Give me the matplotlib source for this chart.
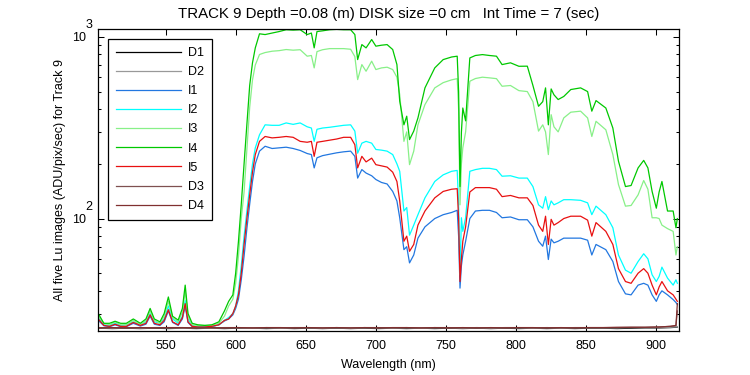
import numpy as np
import matplotlib
matplotlib.use("Agg")
import matplotlib.pyplot as plt
import matplotlib.transforms as mtransforms
from matplotlib.ticker import LogLocator, FixedFormatter, NullFormatter

wl = [502, 506, 510, 514, 518, 522, 527, 532, 536, 539, 542, 546, 549, 552, 555, 559, 562, 564, 566, 569,
      573, 578, 583, 588, 592, 595, 598, 600, 602, 604, 606, 608, 610, 612, 614, 617, 621, 626, 631, 636,
      641, 646, 651, 654, 656, 658, 662, 667, 672, 677, 682, 685, 687, 690, 693, 697, 700, 704, 708, 712,
      715, 717, 720, 722, 724, 727, 730, 735, 742, 748, 754, 758, 759, 760, 761, 762, 764, 767, 771, 776,
      781, 786, 790, 796, 802, 808, 812, 816, 819, 821, 823, 825, 827, 830, 834, 839, 846, 851, 854, 857,
      864, 869, 873, 878, 882, 887, 891, 894, 897, 900, 902, 904, 908, 912, 914, 915]

I1 = [27.5, 25.7, 25.4, 26, 25.4, 25.4, 26.5, 25.6, 26.2, 29, 26.2, 25.8, 27, 31, 26.8, 25.8, 28, 33, 26.8, 25.4,
      25.2, 25.2, 25.4, 26, 27.3, 28, 29.5, 32, 36, 46, 62, 88, 120, 160, 200, 235, 250, 243, 245, 247,
      243, 237, 228, 225, 190, 216, 222, 226, 230, 233, 235, 220, 167, 186, 178, 172, 164, 158, 155, 141,
      125, 101, 67.4, 70, 57, 63, 78, 90, 100, 105, 108, 111, 80, 41.4, 55, 63, 75, 100, 110, 111,
      111, 108, 101, 102, 98.5, 98.5, 90, 75, 70.4, 80, 59.5, 77, 73.5, 75, 78, 78, 78, 76, 63, 72,
      67.4, 58, 45, 38.5, 38, 43, 44, 43, 38, 35, 38, 40, 38, 35.8, 34.5, 33.6]

I2 = [28.5, 26, 25.8, 26.5, 25.8, 26, 27, 26, 27, 30, 27, 26.5, 28, 33, 28, 26.5, 29, 35.5, 28, 25.8,
      25.5, 25.5, 25.5, 26, 27.5, 28.5, 30, 33, 40, 55, 80, 110, 150, 200, 245, 289, 328, 326, 326, 336,
      330, 336, 320, 315, 266, 310, 315, 318, 322, 326, 328, 303, 229, 260, 266, 260, 240, 238, 235, 225,
      200, 182, 110, 115, 81, 92, 105, 130, 160, 174, 182, 184, 120, 49, 101, 85, 101, 182, 186, 189,
      189, 186, 171, 172, 167, 167, 150, 119, 114, 132, 112, 125, 119, 122, 127, 127, 126, 122, 105, 117,
      105, 89, 63, 52, 50, 58, 64, 60, 49, 45, 48, 54, 47, 43, 46, 44]

I3 = [29, 26.5, 26, 27, 26, 26, 27.5, 26, 27.5, 31, 27.5, 26.5, 29, 35, 28.5, 27, 30.5, 40, 29, 26,
      25.8, 25.8, 25.8, 26.5, 29, 33, 36, 44, 62, 100, 140, 240, 410, 580, 700, 800, 820, 834, 840, 852,
      845, 850, 783, 790, 675, 830, 850, 862, 862, 862, 855, 779, 582, 704, 647, 735, 661, 675, 681, 661,
      600, 481, 266, 300, 198, 235, 328, 424, 524, 560, 580, 589, 400, 119, 200, 245, 300, 570, 590, 600,
      595, 589, 535, 540, 506, 500, 440, 303, 328, 300, 225, 373, 320, 300, 358, 385, 390, 358, 283, 343,
      308, 225, 154, 117, 118, 135, 162, 145, 101, 101, 100, 92, 88, 85, 63, 70]

I4 = [30, 26.5, 26.5, 27.2, 26.5, 26.5, 28, 26.5, 28, 32, 28, 27, 30, 37, 29, 27.6, 32, 43, 30, 26.5,
      26, 25.8, 26, 27, 31, 35, 38, 50, 75, 120, 200, 330, 540, 720, 870, 1040, 1030, 1050, 1070, 1095,
      1090, 1095, 1030, 1050, 870, 1070, 1080, 1095, 1100, 1095, 1095, 1030, 750, 907, 870, 967, 889, 900, 907, 852,
      704, 443, 328, 366, 272, 303, 358, 524, 675, 750, 775, 783, 500, 150, 300, 406, 345, 766, 790, 799,
      790, 783, 704, 720, 689, 690, 540, 415, 440, 524, 328, 517, 480, 452, 470, 513, 524, 500, 390, 446,
      406, 315, 207, 150, 152, 190, 209, 190, 141, 114, 140, 160, 110, 110, 89, 100]

I5 = [28, 25.8, 25.5, 26.2, 25.5, 25.5, 26.8, 25.8, 26.5, 29.5, 26.5, 26, 27.5, 31.5, 27, 26, 28.5, 34, 27, 25.5,
      25.3, 25.3, 25.5, 26, 27.5, 28, 30, 33, 38, 50, 72, 100, 135, 180, 225, 266, 283, 278, 280, 283,
      280, 266, 263, 266, 220, 263, 266, 270, 274, 280, 280, 255, 190, 220, 205, 215, 198, 195, 192, 180,
      160, 125, 75, 80, 66, 72, 92, 110, 130, 141, 145, 146, 100, 45, 60, 75, 90, 140, 148, 148,
      148, 145, 132, 134, 130, 130, 118, 92, 85, 103, 72, 99, 92, 95, 100, 103, 103, 98, 80, 95,
      85, 72, 53, 45, 44, 50, 53, 50, 43, 38, 42, 45, 40, 38, 36, 35]

dwl = [502, 512, 522, 532, 542, 552, 562, 572, 582, 592, 602, 612, 622, 632, 642, 652, 662, 672, 682, 692,
       702, 712, 722, 732, 742, 752, 762, 772, 782, 792, 802, 812, 822, 832, 842, 852, 862, 872, 882, 892,
       902, 910, 914, 915]
D1 = [24.9, 24.8, 24.9, 24.8, 24.9, 24.8, 24.9, 24.8, 24.9, 24.8, 24.9, 24.9, 24.8, 24.9, 24.8, 24.9, 24.8, 24.9, 24.8, 24.9,
      24.8, 24.9, 24.8, 24.9, 24.8, 24.9, 24.8, 24.9, 24.8, 24.9, 24.8, 24.9, 24.8, 24.9, 24.8, 24.9, 24.9, 24.8, 24.9, 25.0,
      25.0, 25.1, 25.2, 25.3]
D2 = [25.0, 24.9, 25.0, 24.9, 25.0, 25.0, 24.9, 25.0, 24.9, 25.0, 25.0, 24.9, 25.0, 24.9, 25.0, 25.0, 24.9, 25.0, 24.9, 25.0,
      25.0, 24.9, 25.0, 24.9, 25.0, 25.0, 24.9, 25.0, 24.9, 25.0, 25.0, 24.9, 25.0, 24.9, 25.0, 25.0, 25.0, 25.0, 25.1, 25.1,
      25.1, 25.2, 25.3, 25.4]
D3 = [25.1, 25.0, 25.1, 25.0, 25.1, 25.1, 25.0, 25.1, 25.0, 25.1, 25.1, 25.0, 25.1, 25.0, 25.1, 25.1, 25.0, 25.1, 25.0, 25.1,
      25.1, 25.0, 25.1, 25.0, 25.1, 25.1, 25.0, 25.1, 25.0, 25.1, 25.1, 25.0, 25.1, 25.0, 25.1, 25.1, 25.1, 25.1, 25.2, 25.2,
      25.3, 25.5, 25.7, 31.0]
D4 = [25.0, 25.1, 25.0, 25.1, 25.0, 25.1, 25.1, 25.0, 25.1, 25.0, 25.1, 25.0, 25.1, 25.1, 25.0, 25.1, 25.0, 25.1, 25.0, 25.1,
      25.0, 25.1, 25.1, 25.0, 25.1, 25.0, 25.1, 25.0, 25.1, 25.0, 25.1, 25.1, 25.0, 25.1, 25.0, 25.1, 25.1, 25.2, 25.2, 25.2,
      25.3, 25.5, 25.8, 34.0]

names = ["D1", "D2", "I1", "I2", "I3", "I4", "I5", "D3", "D4"]
colors = ["#000000", "#999999", "#2277e0", "#00ffff", "#88f088", "#00c800", "#e81010", "#7f5050", "#803030"]

yMajor = [100, 1000]
yExp = ["2", "3"]

titleText = "TRACK 9 Depth =0.08 (m) DISK size =0 cm   Int Time = 7 (sec)"

plt.rcParams['font.family'] = ['Liberation Sans', 'DejaVu Sans']
plt.rcParams['font.size'] = 9


def makePlot():
    fig = plt.figure(figsize=(7.5, 3.75), dpi=100)
    ax = fig.add_axes([0.131, 0.117, 0.774, 0.806])

    series = {"D1": (dwl, D1), "D2": (dwl, D2), "I1": (wl, I1), "I2": (wl, I2), "I3": (wl, I3),
              "I4": (wl, I4), "I5": (wl, I5), "D3": (dwl, D3), "D4": (dwl, D4)}
    for name, col in zip(names, colors):
        x, y = series[name]
        ax.plot(x, y, color=col, lw=0.9, label=name)

    ax.set_yscale('log')
    ax.set_xlim(502, 916)
    ax.set_ylim(24, 1107)
    ax.set_xticks([550, 600, 650, 700, 750, 800, 850, 900])
    ax.set_yticks(yMajor)
    ax.yaxis.set_major_formatter(FixedFormatter(["10"] * len(yMajor)))
    ax.yaxis.set_minor_locator(LogLocator(base=10, subs=np.arange(2, 10)))
    ax.yaxis.set_minor_formatter(NullFormatter())

    ax.tick_params(which='both', direction='in', top=True, right=True, width=0.75)
    ax.tick_params(which='major', length=4)
    ax.tick_params(axis='x', pad=6.5)
    ax.tick_params(axis='y', pad=8.5)
    ax.tick_params(which='minor', length=2)
    for sp in ax.spines.values():
        sp.set_linewidth(0.9)

    # exponents sit up and to the right of the "10", like the original
    trans = mtransforms.blended_transform_factory(ax.transAxes, ax.transData)
    trans = mtransforms.offset_copy(trans, fig=fig, x=-13, y=12, units='dots')
    for v, e in zip(yMajor, yExp):
        ax.text(0, v, e, transform=trans, ha='left', va='center', fontsize=9)

    ax.set_xlabel("Wavelength (nm)", labelpad=5)
    ax.set_ylabel("All five Lu images (ADU/pix/sec) for Track 9", labelpad=5)
    ax.set_title(titleText, pad=8)

    leg = ax.legend(loc='upper left', fancybox=False, framealpha=1, edgecolor='black',
                    handlelength=5.2, handletextpad=0.55, labelspacing=0.57,
                    borderpad=0.65, borderaxespad=0.8)
    leg.get_frame().set_linewidth(0.9)

    fig.savefig("out.png", dpi=100)


if __name__ == '__main__':
    makePlot()
